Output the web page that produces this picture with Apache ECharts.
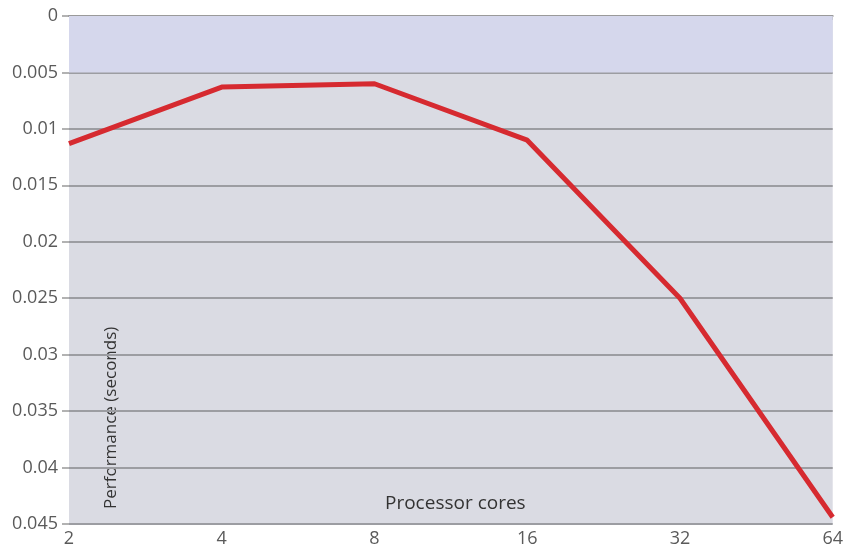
<!DOCTYPE html>
<html>
<head>
<meta charset="utf-8">
<script src="https://cdn.jsdelivr.net/npm/echarts@6/dist/echarts.min.js"></script>
<style>
  html, body { margin: 0; padding: 0; background: #fff; }
  #main { width: 846px; height: 552px; }
</style>
</head>
<body>
<div id="main"></div>
<script>
var cores = ['2', '4', '8', '16', '32', '64'];
var seconds = [0.0113, 0.0063, 0.006, 0.011, 0.025, 0.0444];
var yTicks = [0, 0.005, 0.01, 0.015, 0.02, 0.025, 0.03, 0.035, 0.04, 0.045];

var chart = echarts.init(document.getElementById('main'));

var labelFont = {
  color: '#5a5a5a',
  fontFamily: 'Open Sans',
  fontSize: 18
};

var option = {
  animation: false,
  grid: {
    left: 69,
    right: 8,
    top: 16,
    bottom: 28,
    show: true,
    backgroundColor: '#dadbe3',
    borderWidth: 0
  },
  xAxis: {
    type: 'category',
    data: cores,
    boundaryGap: false,
    axisLine: { lineStyle: { color: '#9a9a9a', width: 2 } },
    axisTick: { alignWithLabel: true, length: 4, lineStyle: { color: '#aaa' } },
    axisLabel: Object.assign({ margin: 6 }, labelFont),
    splitLine: { show: false }
  },
  yAxis: {
    type: 'value',
    inverse: true,
    min: 0,
    max: 0.045,
    interval: 0.005,
    axisLine: { show: false },
    axisTick: { show: true, length: 7, lineStyle: { color: '#999', width: 1.5 } },
    axisLabel: Object.assign({
      margin: 11,
      formatter: function (v) {
        var r = Math.round(v * 1000) / 1000;
        return yTicks.indexOf(r) >= 0 ? String(r) : '';
      }
    }, labelFont),
    splitLine: { lineStyle: { color: '#9c9da2', width: 2 } }
  },
  series: [{
    type: 'line',
    data: seconds,
    symbol: 'none',
    lineStyle: { color: '#d62a30', width: 5 },
    markArea: {
      silent: true,
      itemStyle: { color: '#d5d7ec' },
      data: [[{ yAxis: 0 }, { yAxis: 0.005 }]]
    }
  }],
  graphic: [
    {
      type: 'text',
      left: 385,
      top: 494,
      style: {
        text: 'Processor cores',
        fill: '#333',
        font: '19px "Open Sans"'
      }
    },
    {
      type: 'text',
      x: 103,
      y: 509,
      rotation: Math.PI / 2,
      style: {
        text: 'Performance (seconds)',
        fill: '#333',
        font: '17px "Open Sans"',
        verticalAlign: 'top'
      }
    }
  ]
};

chart.setOption(option);
</script>
</body>
</html>
